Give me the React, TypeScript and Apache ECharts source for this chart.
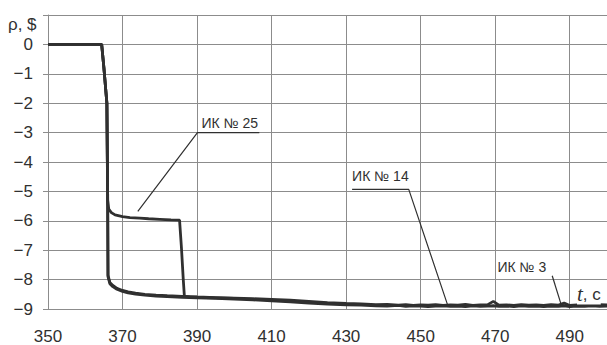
import React, { useEffect, useRef } from "react";
import * as echarts from "echarts";

// Time (s) and reactivity (ρ, $) readings
const timeMain = [
  350, 364.4, 365.0, 365.8, 366.0, 366.1, 366.6, 367.4, 368.5, 370, 371.5, 373.5, 376, 379, 382, 386,
  390, 395, 400, 405, 410, 415, 420, 425, 430, 434, 438, 441, 444, 446, 448, 450, 452, 454, 456, 458,
  460, 462, 464, 466, 468, 469.5, 471, 473, 475, 477, 479, 481, 483, 485, 487, 488.5, 490, 492, 494,
  496, 498, 500,
];
const ik14 = [
  0, 0, -0.8, -2.0, -5.0, -7.85, -8.1, -8.2, -8.3, -8.37, -8.42, -8.46, -8.5, -8.53, -8.55, -8.57,
  -8.59, -8.61, -8.63, -8.65, -8.67, -8.7, -8.74, -8.78, -8.81, -8.83, -8.85, -8.84, -8.87, -8.85,
  -8.88, -8.86, -8.87, -8.85, -8.88, -8.86, -8.87, -8.84, -8.88, -8.86, -8.85, -8.74, -8.87, -8.86,
  -8.88, -8.85, -8.87, -8.86, -8.88, -8.85, -8.87, -8.8, -8.88, -8.86, -8.84, -8.87, -8.85, -8.86,
];
const ik3 = [
  0, 0, -0.8, -2.0, -5.0, -7.9, -8.14, -8.24, -8.33, -8.4, -8.45, -8.49, -8.53, -8.56, -8.58, -8.6,
  -8.62, -8.64, -8.66, -8.69, -8.72, -8.76, -8.8, -8.83, -8.86, -8.87, -8.89, -8.9, -8.88, -8.91,
  -8.89, -8.9, -8.92, -8.9, -8.89, -8.91, -8.9, -8.92, -8.89, -8.91, -8.9, -8.89, -8.91, -8.9, -8.92,
  -8.89, -8.91, -8.9, -8.92, -8.9, -8.91, -8.89, -8.92, -8.9, -8.91, -8.89, -8.91, -8.9,
];
const time25 = [
  350, 364.4, 365.0, 365.8, 366.0, 366.3, 367, 368, 370, 372, 374.6, 377, 380, 383, 385.3, 385.8,
  386.3, 386.6, 388, 390, 395, 400,
];
const ik25 = [
  0, 0, -0.8, -2.0, -5.3, -5.6, -5.72, -5.8, -5.86, -5.89, -5.91, -5.93, -5.95, -5.97, -5.98, -6.9,
  -8.0, -8.57, -8.59, -8.6, -8.62, -8.64,
];

const xTicks = [350, 370, 390, 410, 430, 450, 470, 490];
const yTicks = [0, -1, -2, -3, -4, -5, -6, -7, -8, -9];

// Annotations (data coordinates)
const notes = [
  { label: "ИК № 25", at: [391.2, -2.68], leader: [[374.1, -5.68], [390.1, -3.0], [406.7, -3.0]] },
  { label: "ИК № 14", at: [431.6, -4.49], leader: [[431.6, -4.93], [446.8, -4.93], [457.2, -8.85]] },
  { label: "ИК № 3", at: [470.6, -7.57], leader: [[485.3, -7.87], [487.7, -8.85]] },
];

const INK = "#303030";
const GRID = "#8c8c8c";
const FONT = "'Liberation Sans', Arial, sans-serif";

const pairs = (t: number[], v: number[]) => t.map((x, i) => [x, v[i]]);

export default function App() {
  const ref = useRef<HTMLDivElement>(null);
  useEffect(() => {
    if (!ref.current) return;
    const chart = echarts.init(ref.current, null, { renderer: "svg" });
    const dataLine = (name: string, d: number[][]) => ({
      name,
      type: "line",
      data: d,
      symbol: "none",
      smooth: false,
      lineStyle: { color: INK, width: 2.8 },
      z: 3,
    });
    const option: any = {
      animation: false,
      backgroundColor: "#ffffff",
      grid: { left: 48, top: 15, right: -2, bottom: 35, containLabel: false },
      xAxis: {
        type: "value",
        min: 350,
        max: 500,
        interval: 20,
        axisLine: { show: true, lineStyle: { color: GRID, width: 1 } },
        axisTick: { show: true, length: 5, inside: false, lineStyle: { color: GRID } },
        splitLine: { show: true, lineStyle: { color: GRID, width: 1 } },
        axisLabel: {
          color: INK,
          fontSize: 17,
          fontFamily: FONT,
          margin: 19,
          showMaxLabel: false,
          formatter: (v: number) => (xTicks.includes(v) ? String(v) : ""),
        },
      },
      yAxis: {
        type: "value",
        min: -9,
        max: 1,
        interval: 1,
        axisLine: { show: true, lineStyle: { color: GRID, width: 1 } },
        axisTick: { show: true, length: 5, inside: false, lineStyle: { color: GRID } },
        splitLine: { show: true, lineStyle: { color: GRID, width: 1 } },
        axisLabel: {
          color: INK,
          fontSize: 17,
          fontFamily: FONT,
          margin: 15,
          formatter: (v: number) =>
            yTicks.includes(v) ? (v < 0 ? "\u2212" + Math.abs(v) : String(v)) : "",
        },
      },
      series: [
        dataLine("ИК № 14", pairs(timeMain, ik14)),
        dataLine("ИК № 3", pairs(timeMain, ik3)),
        dataLine("ИК № 25", pairs(time25, ik25)),
        ...notes.map((n) => ({
          name: n.label + " leader",
          type: "line",
          data: n.leader,
          symbol: "none",
          silent: true,
          lineStyle: { color: INK, width: 1.2 },
          z: 4,
        })),
      ],
    };
    chart.setOption(option);

    const graphics: any[] = notes.map((n) => {
      const [x, y] = chart.convertToPixel({ gridIndex: 0 }, n.at) as number[];
      return {
        type: "text",
        x,
        y,
        z: 10,
        style: {
          text: n.label,
          fill: INK,
          font: `14px ${FONT}`,
          textVerticalAlign: "middle",
          textAlign: "left",
        },
      };
    });
    graphics.push({
      type: "text",
      left: 8,
      top: 16,
      z: 10,
      style: { text: "ρ, $", fill: INK, font: `17px ${FONT}` },
    });
    graphics.push({
      type: "text",
      x: 577,
      y: 294,
      z: 10,
      style: {
        text: "{t|t}{r|, c}",
        textVerticalAlign: "middle",
        rich: {
          t: { fontStyle: "italic", fontFamily: "'Liberation Serif', serif", fontSize: 21, fill: INK },
          r: { fontFamily: FONT, fontSize: 17, fill: INK },
        },
        backgroundColor: "#ffffff",
      },
    });
    chart.setOption({ graphic: graphics });
    return () => chart.dispose();
  }, []);
  return (
    <div
      ref={ref}
      style={{ position: "fixed", left: 0, top: 0, width: 607, height: 345, background: "#fff" }}
    />
  );
}
